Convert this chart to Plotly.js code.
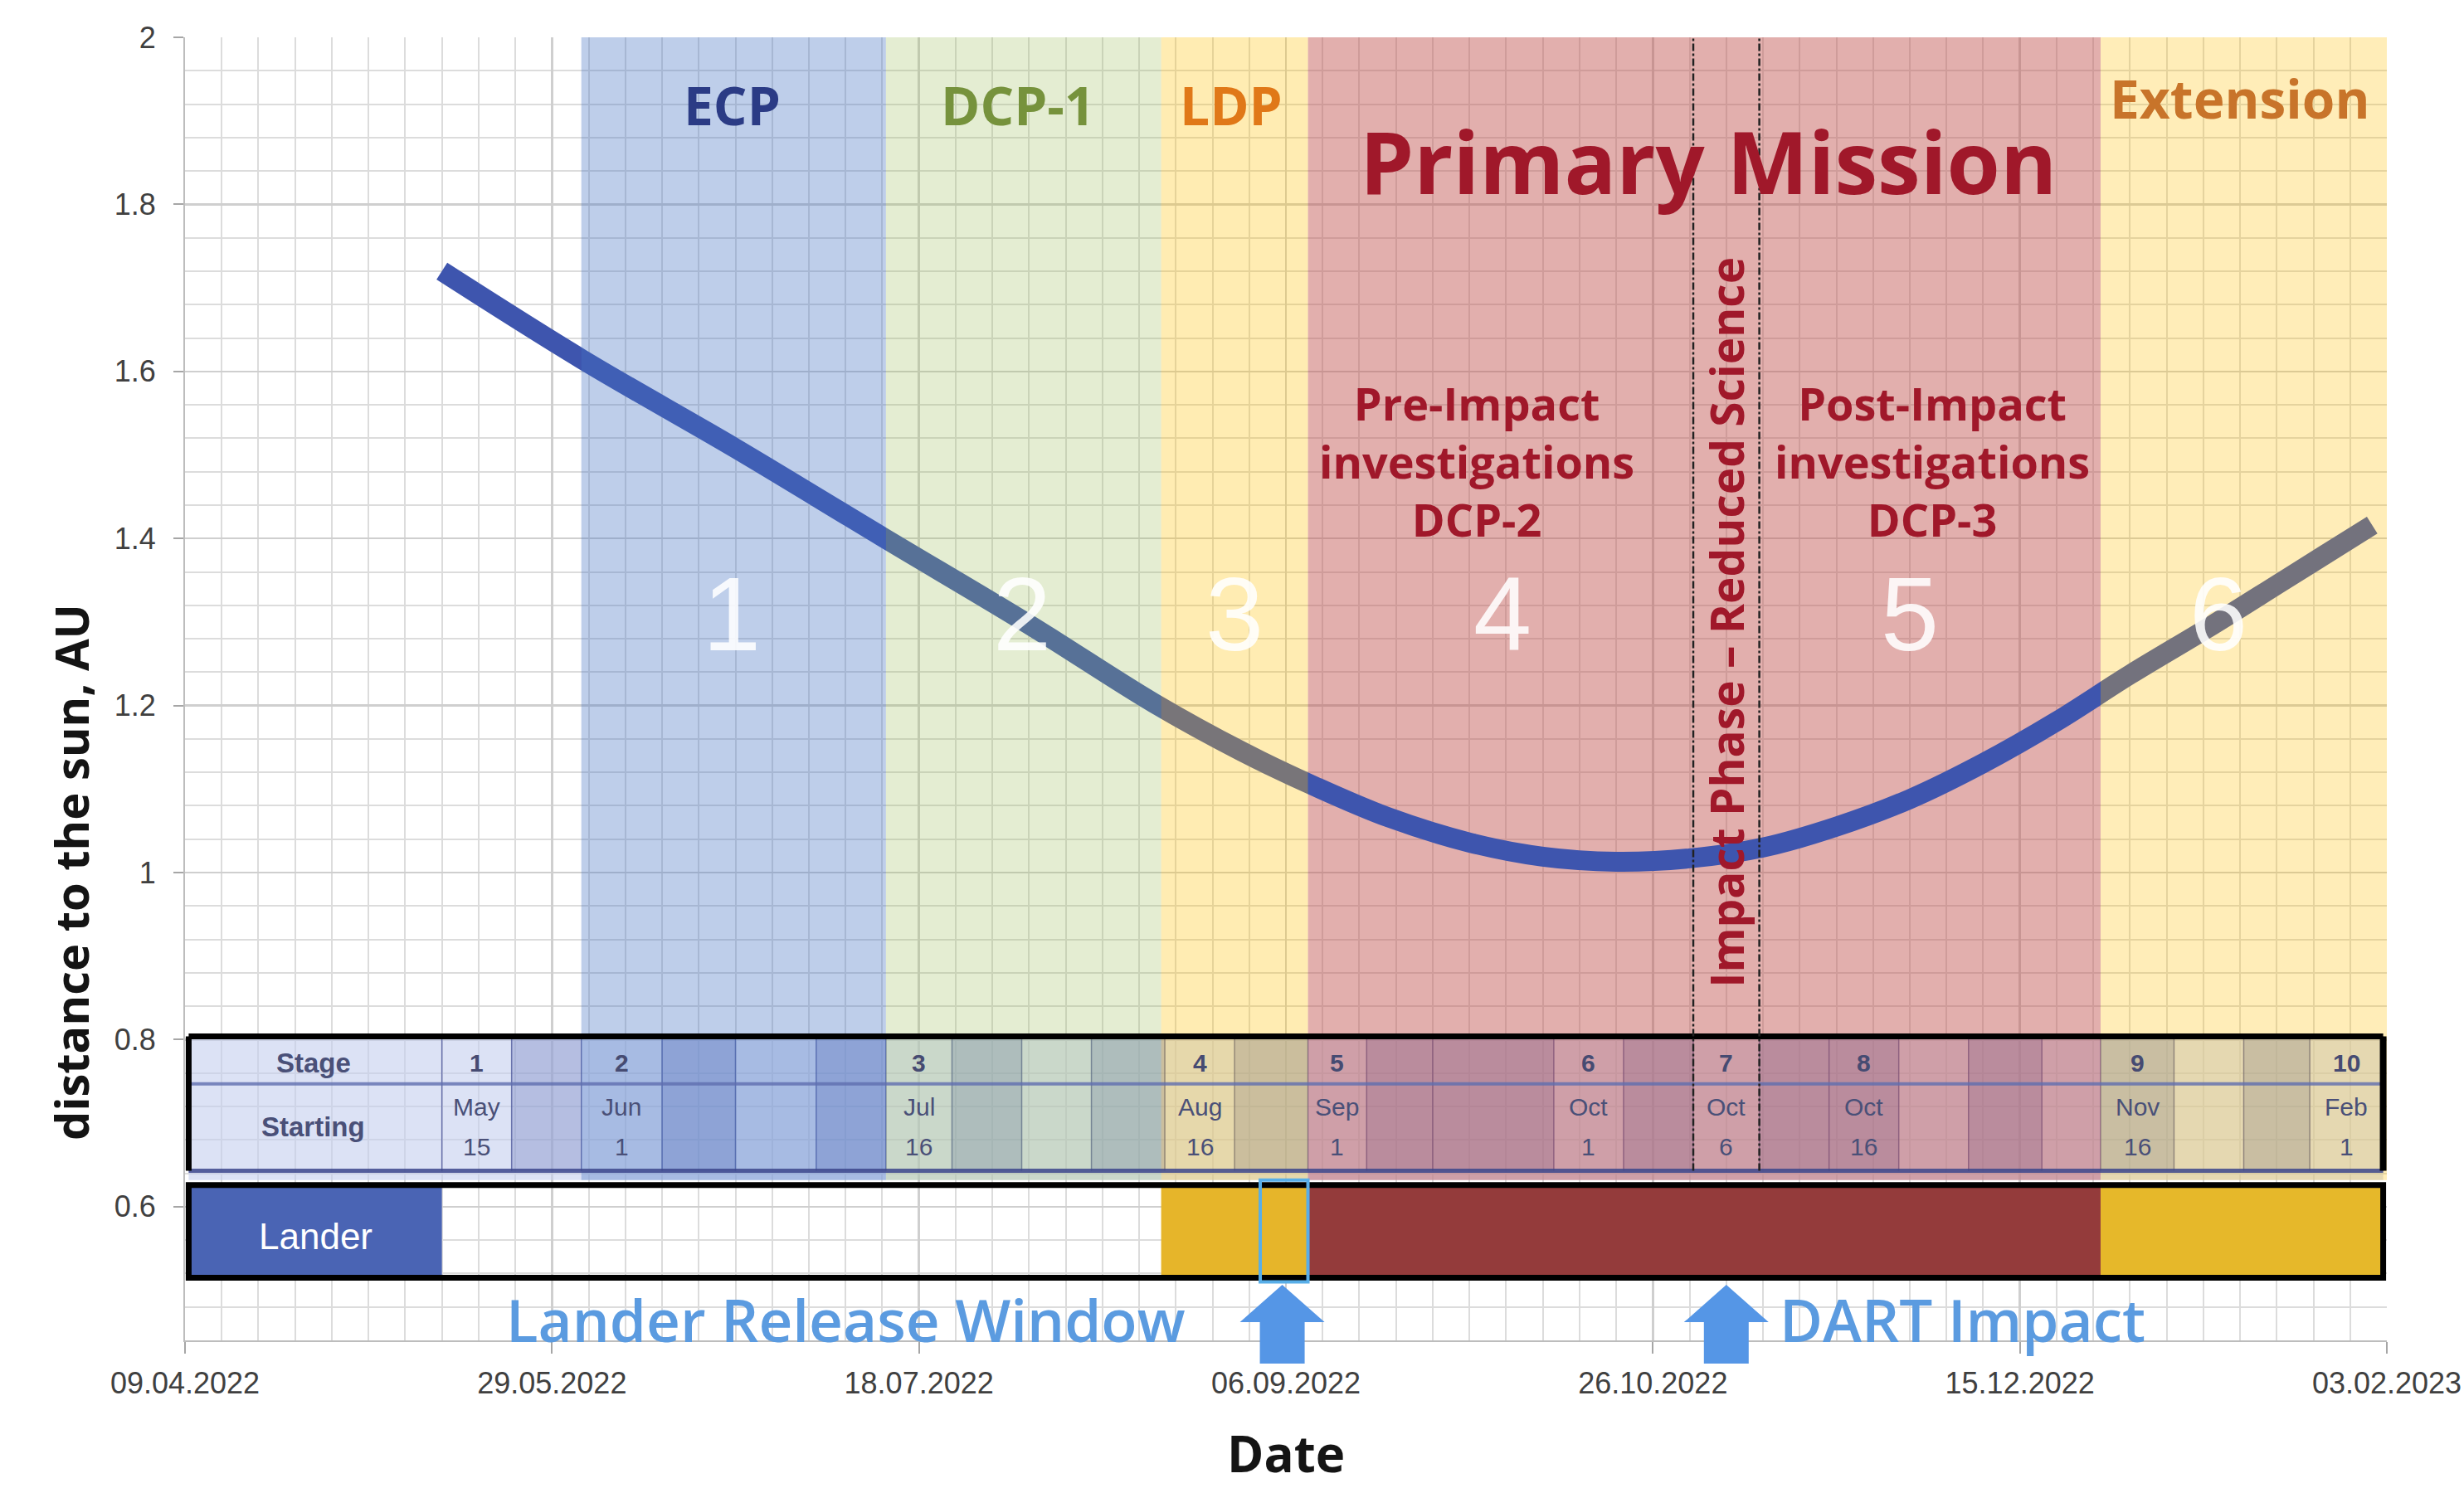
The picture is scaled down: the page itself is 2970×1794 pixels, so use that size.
<!DOCTYPE html>
<html><head><meta charset="utf-8">
<script src="https://cdn.plot.ly/plotly-3.0.1.min.js"></script>
<style>html,body{margin:0;padding:0;background:#fff}#chart{width:2970px;height:1794px}</style>
</head><body><div id="chart"></div>
<script>
// ---------------- data ----------------
const curveDates = ['2022-05-14','2022-06-02','2022-06-23','2022-07-13','2022-08-02','2022-08-19','2022-08-31','2022-09-10','2022-09-20','2022-10-01','2022-10-11','2022-10-21','2022-10-31','2022-11-10','2022-11-20','2022-11-30','2022-12-10','2022-12-20','2022-12-30','2023-01-10','2023-01-20','2023-02-01'];
const curveAU    = [1.72, 1.615, 1.508, 1.402, 1.297, 1.203, 1.145, 1.103, 1.066, 1.036, 1.019, 1.013, 1.017, 1.030, 1.055, 1.088, 1.131, 1.181, 1.237, 1.295, 1.350, 1.416];

const phaseNames  = ['ECP','DCP-1','LDP','Primary Mission','Extension'];
const phaseStart  = ['2022-06-02','2022-07-13 12:00','2022-08-20','2022-09-09','2022-12-26'];
const phaseEnd    = ['2022-07-13 12:00','2022-08-20','2022-09-09','2022-12-26','2023-02-03'];
const phaseLabelDate = ['2022-06-22 12:00','2022-07-31 12:00','2022-08-29 12:00','2022-11-02 12:00','2023-01-14'];

const stageNumbers    = ['1','2','3','4','5','6'];
const stageNumberDate = ['2022-06-22 12:00','2022-08-01','2022-08-30','2022-10-05 12:00','2022-11-30','2023-01-11'];

const investigationText = ['Pre-Impact<br>investigations<br>DCP-2','Post-Impact<br>investigations<br>DCP-3'];
const investigationDate = ['2022-10-02','2022-12-03'];

const impactPhase = ['2022-10-31 12:00','2022-11-09 12:00'];
const impactPhaseText = 'Impact Phase \u2013 Reduced Science';

const tableEdges = ['2022-05-14','2022-05-23 12:00','2022-06-02','2022-06-13','2022-06-23','2022-07-04','2022-07-13 12:00','2022-07-22 12:00','2022-08-01','2022-08-10 12:00','2022-08-20 12:00','2022-08-30','2022-09-09','2022-09-17','2022-09-26','2022-10-12 12:00','2022-10-22','2022-10-31 12:00','2022-11-09 12:00','2022-11-19','2022-11-28 12:00','2022-12-08','2022-12-18','2022-12-26','2023-01-05','2023-01-14 12:00','2023-01-23 12:00','2023-02-02 12:00'];
const stageNo    = ['1','','2','','','','3','','','','4','','5','','','6','','7','','8','','','','9','','','10'];
const stageMonth = ['May','','Jun','','','','Jul','','','','Aug','','Sep','','','Oct','','Oct','','Oct','','','','Nov','','','Feb'];
const stageDay   = ['15','','1','','','','16','','','','16','','1','','','1','','6','','16','','','','16','','','1'];
const colShade   = [0,1,0,1,0,1,0,1,0,1,0,1,0,1,1,0,1,0,1,1,0,1,0,1,0,1,0];

const landerStart  = ['2022-04-09 12:00','2022-08-20','2022-09-09','2022-12-26'];
const landerEnd    = ['2022-05-14','2022-09-09','2022-12-26','2023-02-02 12:00'];
const releaseWindow = ['2022-09-02 12:00','2022-09-09'];
const arrowDates = ['2022-09-05 12:00','2022-11-05'];
const arrowTexts = ['Lander Release Window','DART Impact'];
const arrowTextDates = ['2022-07-08','2022-11-12'];

const xRange = ['2022-04-09','2023-02-03'];
const yRange = [0.44, 2.0];
const DAY = 86400000;

// ---------------- styles ----------------
const phaseFill   = ['#4472C4','#9BBB59','#FFC000','#C0504D','#FFC000'];
const phaseAlpha  = [0.35, 0.27, 0.30, 0.46, 0.28];
const phaseTextColor = ['#2B3B85','#76923C','#E07818','#A0182A','#C8742A'];
const landerColors = ['#4A64B4','#E6B52A','#943B3B','#E6B82A'];
const RED = '#A0182A';

function ms(s){ const p=s.split(' '); const d=p[0].split('-').map(Number); let h=0,mi=0; if(p[1]){const t=p[1].split(':').map(Number); h=t[0]; mi=t[1];} return Date.UTC(d[0],d[1]-1,d[2],h,mi); }
function mid(a,b){ return (ms(a)+ms(b))/2; }

const T_TOP=0.804, T_MID=0.747, T_BOT=0.643, BAND_BOT=0.632, L_TOP=0.626, L_BOT=0.515;
const X0='2022-04-09 12:00', X1='2023-02-02 12:00';

const shapes = [];
shapes.push({type:'rect', layer:'between', xref:'x', yref:'y', x0:phaseStart[3], x1:phaseEnd[3], y0:T_TOP, y1:2.0, fillcolor:phaseFill[3], opacity:phaseAlpha[3], line:{width:0}});
shapes.push({type:'rect', layer:'above', xref:'x', yref:'y', x0:X0, x1:X1, y0:BAND_BOT, y1:T_TOP, fillcolor:'rgba(196,206,238,0.6)', line:{width:0}});
for (let i=0;i<colShade.length;i++){
  if (colShade[i]) shapes.push({type:'rect', layer:'above', xref:'x', yref:'y', x0:tableEdges[i], x1:tableEdges[i+1], y0:T_BOT, y1:T_TOP, fillcolor:'rgba(70,88,170,0.26)', line:{width:0}});
}
for (let i=0;i<tableEdges.length;i++){
  shapes.push({type:'line', layer:'above', xref:'x', yref:'y', x0:tableEdges[i], x1:tableEdges[i], y0:T_BOT, y1:T_TOP, line:{color:'rgba(70,80,150,0.75)', width:1.5}});
}
for (let p=0;p<phaseNames.length;p++){
  shapes.push({type:'rect', layer:'above', xref:'x', yref:'y', x0:phaseStart[p], x1:phaseEnd[p], y0:BAND_BOT, y1:(p===3?T_TOP:2.0), fillcolor:phaseFill[p], opacity:phaseAlpha[p], line:{width:0}});
}
shapes.push({type:'line', layer:'above', xref:'x', yref:'y', x0:X0, x1:X1, y0:T_MID, y1:T_MID, line:{color:'rgba(95,110,175,0.8)', width:4}});
shapes.push({type:'line', layer:'above', xref:'x', yref:'y', x0:X0, x1:X1, y0:T_BOT, y1:T_BOT, line:{color:'rgba(60,70,140,0.85)', width:5}});
shapes.push({type:'line', layer:'above', xref:'x', yref:'y', x0:X0, x1:X1, y0:T_TOP, y1:T_TOP, line:{color:'#000', width:7}});
shapes.push({type:'line', layer:'above', xref:'x', yref:'y', x0:X0, x1:X0, y0:T_BOT, y1:T_TOP, line:{color:'#000', width:7}});
shapes.push({type:'line', layer:'above', xref:'x', yref:'y', x0:X1, x1:X1, y0:T_BOT, y1:T_TOP, line:{color:'#000', width:8}});
for (const d of impactPhase){
  shapes.push({type:'line', layer:'above', xref:'x', yref:'y', x0:d, x1:d, y0:T_BOT, y1:2.0, line:{color:'#222', width:2.5, dash:'dashdot'}});
}
for (let i=0;i<landerStart.length;i++){
  shapes.push({type:'rect', layer:'above', xref:'x', yref:'y', x0:landerStart[i], x1:landerEnd[i], y0:L_BOT, y1:L_TOP, fillcolor:landerColors[i], line:{width:0}});
}
shapes.push({type:'rect', layer:'above', xref:'x', yref:'y', x0:X0, x1:X1, y0:L_BOT, y1:L_TOP, fillcolor:'rgba(0,0,0,0)', line:{color:'#000', width:7}});
shapes.push({type:'rect', layer:'above', xref:'x', yref:'y', x0:releaseWindow[0], x1:releaseWindow[1], y0:0.510, y1:0.632, fillcolor:'rgba(0,0,0,0)', line:{color:'#58AEE8', width:4}});
for (const d of arrowDates){
  shapes.push({type:'path', layer:'above', xref:'x', yref:'paper', xsizemode:'pixel', ysizemode:'pixel', xanchor:d, yanchor:0.0426,
    path:'M0,0 L51,-45 L27,-45 L27,-95 L-27,-95 L-27,-45 L-51,-45 Z', fillcolor:'#5596E6', line:{width:0}});
}

// ---------------- annotations ----------------
const ann = [];
const phaseLabelY = [1.919,1.919,1.919,1.853,1.927];
const phaseLabelSize = [64,64,64,104,64];
for (let p=0;p<phaseNames.length;p++){
  ann.push({x:phaseLabelDate[p], y:phaseLabelY[p], xref:'x', yref:'y', text:phaseNames[p], showarrow:false,
    font:{family:'Open Sans', size:phaseLabelSize[p], color:phaseTextColor[p], weight:700}});
}
for (let i=0;i<stageNumbers.length;i++){
  ann.push({x:stageNumberDate[i], y:1.309, xref:'x', yref:'y', text:stageNumbers[i], showarrow:false,
    font:{family:'Liberation Sans', size:126, color:'rgba(255,255,255,0.88)', weight:400}});
}
for (let i=0;i<investigationText.length;i++){
  ann.push({x:investigationDate[i], y:1.493, xref:'x', yref:'y', text:investigationText[i], showarrow:false,
    font:{family:'Open Sans', size:54, color:RED, weight:700}});
}
ann.push({x:mid(impactPhase[0],impactPhase[1]), y:1.30, xref:'x', yref:'y', text:impactPhaseText, textangle:-90, showarrow:false,
  font:{family:'Open Sans', size:55, color:RED, weight:700}});
const hdrX = mid('2022-04-09', tableEdges[0]);
const tblFont = {family:'Liberation Sans', size:30, color:'#4A5078'};
ann.push({x:hdrX, y:0.772, xref:'x', yref:'y', text:'Stage', showarrow:false, font:{family:'Liberation Sans', size:33, color:'#4A5078', weight:700}});
ann.push({x:hdrX, y:0.696, xref:'x', yref:'y', text:'Starting', showarrow:false, font:{family:'Liberation Sans', size:33, color:'#4A5078', weight:700}});
for (let i=0;i<stageNo.length;i++){
  if (!stageNo[i]) continue;
  const cx = mid(tableEdges[i], tableEdges[i+1]);
  ann.push({x:cx, y:0.772, xref:'x', yref:'y', text:stageNo[i], showarrow:false, font:{family:'Liberation Sans', size:30, color:'#464B72', weight:700}});
  ann.push({x:cx, y:0.720, xref:'x', yref:'y', text:stageMonth[i], showarrow:false, font:tblFont});
  ann.push({x:cx, y:0.672, xref:'x', yref:'y', text:stageDay[i], showarrow:false, font:tblFont});
}
ann.push({x:mid(landerStart[0], landerEnd[0]), y:0.565, xref:'x', yref:'y', text:'Lander', showarrow:false, font:{family:'Liberation Sans', size:44, color:'#FFFFFF'}});
ann.push({x:arrowTextDates[0], y:0.465, xref:'x', yref:'y', text:arrowTexts[0], xanchor:'center', showarrow:false, font:{family:'Open Sans', size:71, color:'#5B9BE0', weight:600}});
ann.push({x:arrowTextDates[1], y:0.465, xref:'x', yref:'y', text:arrowTexts[1], xanchor:'left', showarrow:false, font:{family:'Open Sans', size:71, color:'#5B9BE0', weight:600}});
ann.push({x:0, xref:'paper', xshift:-138, xanchor:'center', y:1.0, yref:'y', yanchor:'middle', text:'distance to the sun, AU', textangle:-90, showarrow:false, font:{family:'Open Sans', size:56, color:'#141414', weight:700}});
ann.push({x:0.5, xref:'paper', y:0, yref:'paper', yshift:-136, yanchor:'middle', text:'Date', showarrow:false, font:{family:'Open Sans', size:60, color:'#141414', weight:700}});

const trace = {x:curveDates, y:curveAU, type:'scatter', mode:'lines', line:{color:'#3E55AE', width:24, shape:'spline', smoothing:1}, hoverinfo:'skip', showlegend:false};

const layout = {
  width:2970, height:1794,
  margin:{l:223, r:93, t:45, b:178},
  paper_bgcolor:'#fff', plot_bgcolor:'#fff',
  showlegend:false,
  xaxis:{type:'date', range:xRange, tick0:xRange[0], dtick:50*DAY, tickformat:'%d.%m.%Y',
    showgrid:true, gridcolor:'#cfcfcf', gridwidth:2.5,
    minor:{dtick:5*DAY, tick0:xRange[0], showgrid:true, gridcolor:'#dcdcdc', gridwidth:2},
    ticks:'outside', ticklen:14, tickwidth:2, tickcolor:'#a6a6a6',
    showline:true, linecolor:'#bdbdbd', linewidth:2, zeroline:false,
    tickfont:{family:'Liberation Sans', size:36, color:'#404040'}, ticklabelstandoff:5},
  yaxis:{range:yRange, tick0:0, dtick:0.2,
    showgrid:true, gridcolor:'#cfcfcf', gridwidth:2.5,
    minor:{dtick:0.04, tick0:0, showgrid:true, gridcolor:'#dcdcdc', gridwidth:2},
    ticks:'outside', ticklen:12, tickwidth:2, tickcolor:'#a6a6a6',
    showline:true, linecolor:'#bdbdbd', linewidth:2, zeroline:false,
    tickfont:{family:'Liberation Sans', size:36, color:'#404040'}, ticklabelstandoff:14},
  shapes:shapes,
  annotations:ann
};
Plotly.newPlot('chart', [trace], layout, {displayModeBar:false, staticPlot:true});
</script></body></html>
